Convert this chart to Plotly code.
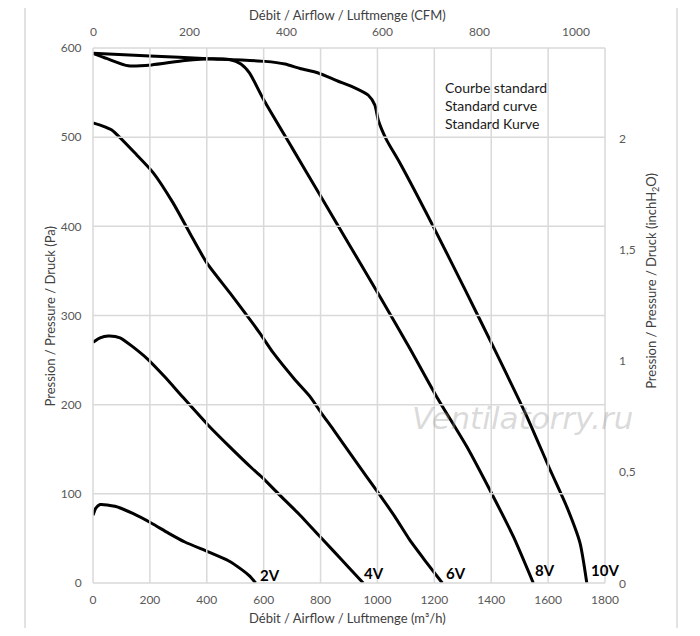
import plotly.graph_objects as go

# Airflow (m3/h) and static pressure (Pa)
q_2v = [0, 10, 25, 77, 140, 206, 265, 323, 405, 476, 523, 550, 572]
p_2v = [76, 84, 88, 86, 78, 67, 56, 46, 35, 25, 15, 8, 0]

q_4v = [0, 25, 54, 95, 189, 253, 317, 405, 480, 558, 593, 652, 728, 792, 845, 900, 950]
p_4v = [270, 275, 277, 275, 252, 231, 208, 177, 153, 129, 119, 100, 76, 54, 36, 17, 0]

q_6v = [0, 30, 66, 154, 212, 282, 341, 400, 482, 587, 634, 710, 763, 804, 845, 920, 1003, 1060, 1114, 1170, 1228]
p_6v = [516, 513, 508, 480, 460, 426, 392, 359, 325, 280, 258, 228, 209, 190, 172, 138, 101, 75, 48, 24, 0]

q_8v = [0, 50, 124, 206, 323, 420, 480, 520, 550, 600, 700, 800, 900, 1009, 1114, 1208, 1314, 1407, 1478, 1548]
p_8v = [594, 588, 580, 581, 586, 588, 587, 582, 572, 542, 488, 434, 380, 321, 263, 209, 153, 97, 52, 0]

q_10v = [0, 200, 405, 605, 675, 728, 792, 860, 909, 968, 991, 1003, 1032, 1079, 1196, 1308, 1407, 1525, 1607, 1665, 1712, 1736]
p_10v = [594, 591, 588, 585, 582, 577, 572, 563, 557, 547, 536, 519, 497, 471, 400, 329, 265, 187, 127, 86, 45, 0]

curves = [("2V", q_2v, p_2v), ("4V", q_4v, p_4v), ("6V", q_6v, p_6v),
          ("8V", q_8v, p_8v), ("10V", q_10v, p_10v)]

# where each voltage label sits (m3/h, Pa)
label_pos = {"2V": (581, 9), "4V": (946, 11), "6V": (1234, 11), "8V": (1548, 15), "10V": (1744, 15)}

M3H_PER_CFM = 1.69901
PA_PER_INH2O = 249.089
q_max = 1800
p_max = 600

q_ticks = list(range(0, 2000, 200))
p_ticks = list(range(0, 700, 100))

# secondary scales (top: CFM, right: inchH2O)
cfm_ticks = [0, 200, 400, 600, 800, 1000]
inh2o_ticks = [0, 0.5, 1, 1.5, 2]
inh2o_text = ["0", "0,5", "1", "1,5", "2"]

FONT = "Lato"
GRID = "#d9d9d9"
TICK = "#595959"

fig = go.Figure()

for name, q, p in curves:
    fig.add_trace(go.Scatter(
        x=q, y=p, mode="lines", name=name,
        line=dict(color="black", width=3, shape="spline", smoothing=0.6),
        showlegend=False,
    ))

tick_font = dict(family=FONT, size=12, color=TICK)

annotations = []

# watermark
annotations.append(dict(
    x=1510, y=185, xref="x", yref="y", text="<i>Ventilatorry.ru</i>", showarrow=False,
    font=dict(family="DejaVu Sans", size=31, color="rgba(150,150,150,0.35)"),
))

for name, (lx, ly) in label_pos.items():
    annotations.append(dict(
        x=lx, y=ly, xref="x", yref="y", text="<b>" + name + "</b>",
        showarrow=False, xanchor="left", yanchor="middle",
        font=dict(family=FONT, size=15, color="black"),
    ))

# top CFM tick labels placed at the matching m3/h positions
for c in cfm_ticks:
    annotations.append(dict(
        x=c * M3H_PER_CFM, y=1.03, xref="x", yref="paper", text=str(c),
        showarrow=False, xanchor="center", yanchor="middle", font=tick_font,
    ))

# right inchH2O tick labels placed at the matching Pa positions
for v, t in zip(inh2o_ticks, inh2o_text):
    annotations.append(dict(
        x=1.024, y=v * PA_PER_INH2O, xref="paper", yref="y", text=t,
        showarrow=False, xanchor="left", yanchor="middle", font=tick_font,
    ))

annotations.append(dict(
    x=1230, y=567, xref="x", yref="y",
    text="Courbe standard<br>Standard curve<br>Standard Kurve",
    showarrow=False, xanchor="left", yanchor="top", align="left",
    font=dict(family=FONT, size=14, color="#1a1a1a"),
))

title_font = dict(family=FONT, size=13, color="#404040")
annotations += [
    dict(x=0.498, y=1.062, xref="paper", yref="paper", showarrow=False,
         xanchor="center", yanchor="middle",
         text="Débit / Airflow / Luftmenge (CFM)", font=title_font),
    dict(x=0.498, y=-0.066, xref="paper", yref="paper", showarrow=False,
         xanchor="center", yanchor="middle",
         text="Débit / Airflow / Luftmenge (m³/h)", font=title_font),
    dict(x=-0.084, y=0.5, xref="paper", yref="paper", showarrow=False, textangle=-90,
         xanchor="center", yanchor="middle",
         text="Pression / Pressure / Druck (Pa)", font=title_font),
    dict(x=1.092, y=0.565, xref="paper", yref="paper", showarrow=False, textangle=-90,
         xanchor="center", yanchor="middle",
         text="Pression / Pressure / Druck (inchH<sub>2</sub>O)", font=title_font),
]

# grid as paper-referenced lines (fractions of the plot area)
shapes = []
for t in q_ticks:
    shapes.append(dict(type="line", xref="paper", yref="paper", x0=t / q_max, x1=t / q_max,
                       y0=0, y1=1, line=dict(color=GRID, width=1.5)))
for t in p_ticks:
    shapes.append(dict(type="line", xref="paper", yref="paper", x0=0, x1=1,
                       y0=t / p_max, y1=t / p_max, line=dict(color=GRID, width=1.5)))

# light frame around the whole chart
shapes += [
    dict(type="line", xref="paper", yref="paper", x0=-0.1328, x1=-0.1328, y0=-0.1, y1=1.1,
         line=dict(color=GRID, width=1.5)),
    dict(type="line", xref="paper", yref="paper", x0=1.1406, x1=1.1406, y0=-0.1, y1=1.1,
         line=dict(color=GRID, width=1.5)),
]

# page body has an 8px margin, so the figure is a bit smaller than the window
fig.update_layout(
    width=684, height=620,
    margin=dict(l=85, r=87, t=40, b=45),
    paper_bgcolor="white", plot_bgcolor="rgba(0,0,0,0)",
    showlegend=False,
    xaxis=dict(range=[0, q_max], tickvals=q_ticks, showgrid=False, zeroline=False,
               showline=False, ticks="outside", ticklen=6, tickcolor="rgba(0,0,0,0)",
               tickfont=tick_font),
    yaxis=dict(range=[0, p_max], tickvals=p_ticks, showgrid=False, zeroline=False,
               showline=False, ticks="outside", ticklen=8, tickcolor="rgba(0,0,0,0)",
               tickfont=tick_font),
    annotations=annotations,
    shapes=shapes,
)

fig.write_html("out.html")
